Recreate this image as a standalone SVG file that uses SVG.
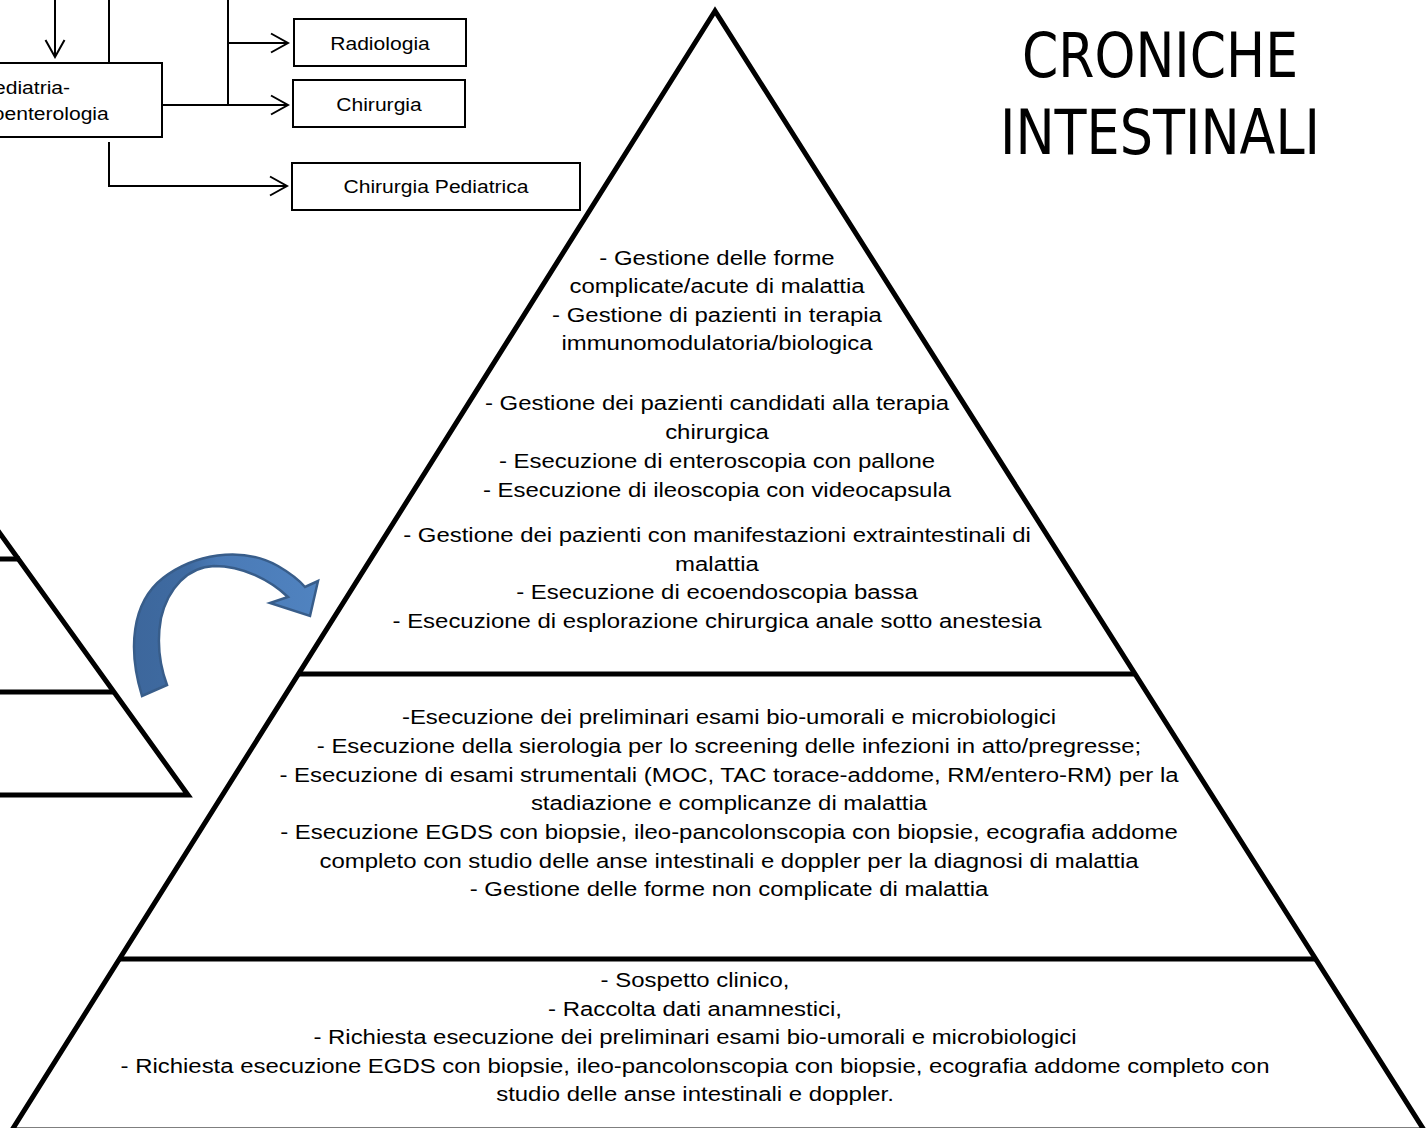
<svg xmlns="http://www.w3.org/2000/svg" width="1428" height="1128" viewBox="0 0 1428 1128">
<defs>
<style>
.bx{fill:#fff;stroke:#000;stroke-width:2}
.cn{fill:none;stroke:#000;stroke-width:2}
.pyr{fill:none;stroke:#000;stroke-width:5;stroke-linejoin:miter}
.lbl{font-family:"Liberation Sans",Arial,sans-serif;font-size:18.5px;fill:#000;text-anchor:middle}
.pt{font-family:"Liberation Sans",Arial,sans-serif;font-size:21px;fill:#000;text-anchor:middle}
.title{font-family:"Liberation Sans Narrow","Arial Narrow","DejaVu Sans Condensed","Liberation Sans",sans-serif;font-size:63px;fill:#000;text-anchor:middle}
</style>
<marker id="open" markerUnits="userSpaceOnUse" markerWidth="20" markerHeight="22" viewBox="-18 -11 20 22" refX="0" refY="0" orient="auto">
<path d="M-17,-9.5 L0,0 L-17,9.5" fill="none" stroke="#000" stroke-width="2"/>
</marker>
<linearGradient id="blue" x1="0" y1="0" x2="1" y2="0">
<stop offset="0" stop-color="#3D679C"/>
<stop offset="0.3" stop-color="#3F6BA2"/>
<stop offset="0.45" stop-color="#4A7AB6"/>
<stop offset="1" stop-color="#5083C0"/>
</linearGradient>
</defs>
<rect x="0" y="0" width="1428" height="1128" fill="#fff"/>

<g id="connectors">
<line class="cn" x1="55" y1="-2" x2="55" y2="57" marker-end="url(#open)"/>
<line class="cn" x1="109" y1="-2" x2="109" y2="63"/>
<line class="cn" x1="228" y1="-2" x2="228" y2="105"/>
<line class="cn" x1="228" y1="43" x2="288" y2="43" marker-end="url(#open)"/>
<line class="cn" x1="162" y1="105" x2="288" y2="105" marker-end="url(#open)"/>
<polyline class="cn" points="109,142 109,186 287,186" marker-end="url(#open)"/>
</g>

<g id="node-pediatria">
<rect class="bx" x="-110" y="63" width="272" height="74"/>
<g transform="translate(25,0) scale(1.14,1)">
<text class="lbl" x="0" y="94">Pediatria-</text>
<text class="lbl" x="0" y="120">Gastroenterologia</text>
</g>
</g>

<g id="node-radiologia">
<rect class="bx" x="294" y="19" width="172" height="47"/>
<text class="lbl" transform="translate(380,50) scale(1.14,1)" x="0" y="0">Radiologia</text>
</g>

<g id="node-chirurgia">
<rect class="bx" x="293" y="80" width="172" height="47"/>
<text class="lbl" transform="translate(379,111) scale(1.14,1)" x="0" y="0">Chirurgia</text>
</g>

<g id="node-chirurgia-pediatrica">
<rect class="bx" x="292" y="163" width="288" height="47"/>
<text class="lbl" transform="translate(436,193) scale(1.14,1)" x="0" y="0">Chirurgia Pediatrica</text>
</g>

<g id="title">
<text class="title" x="1160" y="77" textLength="276" lengthAdjust="spacingAndGlyphs">CRONICHE</text>
<text class="title" x="1160" y="154" textLength="320" lengthAdjust="spacingAndGlyphs">INTESTINALI</text>
</g>

<g id="left-pyramid">
<path class="pyr" d="M-14,514 L188,795 L-20,795"/>
<line class="pyr" x1="-10" y1="559" x2="20" y2="559"/>
<line class="pyr" x1="-10" y1="692" x2="114" y2="692"/>
</g>

<g id="curved-arrow">
<path d="M142,696 C128,650 131,603 163,578 C193,555 240,545 278,566 C290,573 299,580 305,587 L318,581 L310,616 L270,603 L288,597 C270,580 243,566 214,566 C188,567 168,588 161,618 C156,645 160,666 167,685 Z" fill="url(#blue)" stroke="#385D8A" stroke-width="2.5" stroke-linejoin="miter"/>
</g>

<g id="main-pyramid">
<polygon class="pyr" points="715,11 12,1130 1424,1130"/>
<line class="pyr" x1="298" y1="674" x2="1135" y2="674"/>
<line class="pyr" x1="119" y1="959" x2="1316" y2="959"/>
</g>

<g id="level-top" transform="translate(717,0) scale(1.14,1)">
<text class="pt" x="0" y="265">- Gestione delle forme</text>
<text class="pt" x="0" y="293.5">complicate/acute di malattia</text>
<text class="pt" x="0" y="322">- Gestione di pazienti in terapia</text>
<text class="pt" x="0" y="350.5">immunomodulatoria/biologica</text>
<text class="pt" x="0" y="410">- Gestione dei pazienti candidati alla terapia</text>
<text class="pt" x="0" y="439">chirurgica</text>
<text class="pt" x="0" y="468">- Esecuzione di enteroscopia con pallone</text>
<text class="pt" x="0" y="497">- Esecuzione di ileoscopia con videocapsula</text>
<text class="pt" x="0" y="542">- Gestione dei pazienti con manifestazioni extraintestinali di</text>
<text class="pt" x="0" y="571">malattia</text>
<text class="pt" x="0" y="599">- Esecuzione di ecoendoscopia bassa</text>
<text class="pt" x="0" y="628">- Esecuzione di esplorazione chirurgica anale sotto anestesia</text>
</g>

<g id="level-middle" transform="translate(729,0) scale(1.14,1)">
<text class="pt" x="0" y="724">-Esecuzione dei preliminari esami bio-umorali e microbiologici</text>
<text class="pt" x="0" y="753">- Esecuzione della sierologia per lo screening delle infezioni in atto/pregresse;</text>
<text class="pt" x="0" y="782">- Esecuzione di esami strumentali (MOC, TAC torace-addome, RM/entero-RM) per la</text>
<text class="pt" x="0" y="810.5">stadiazione e complicanze di malattia</text>
<text class="pt" x="0" y="839">- Esecuzione EGDS con biopsie, ileo-pancolonscopia con biopsie, ecografia addome</text>
<text class="pt" x="0" y="868">completo con studio delle anse intestinali e doppler per la diagnosi di malattia</text>
<text class="pt" x="0" y="896">- Gestione delle forme non complicate di malattia</text>
</g>

<g id="level-bottom" transform="translate(695,0) scale(1.14,1)">
<text class="pt" x="0" y="987">- Sospetto clinico,</text>
<text class="pt" x="0" y="1016">- Raccolta dati anamnestici,</text>
<text class="pt" x="0" y="1044">- Richiesta esecuzione dei preliminari esami bio-umorali e microbiologici</text>
<text class="pt" x="0" y="1073">- Richiesta esecuzione EGDS con biopsie, ileo-pancolonscopia con biopsie, ecografia addome completo con</text>
<text class="pt" x="0" y="1101">studio delle anse intestinali e doppler.</text>
</g>
</svg>
